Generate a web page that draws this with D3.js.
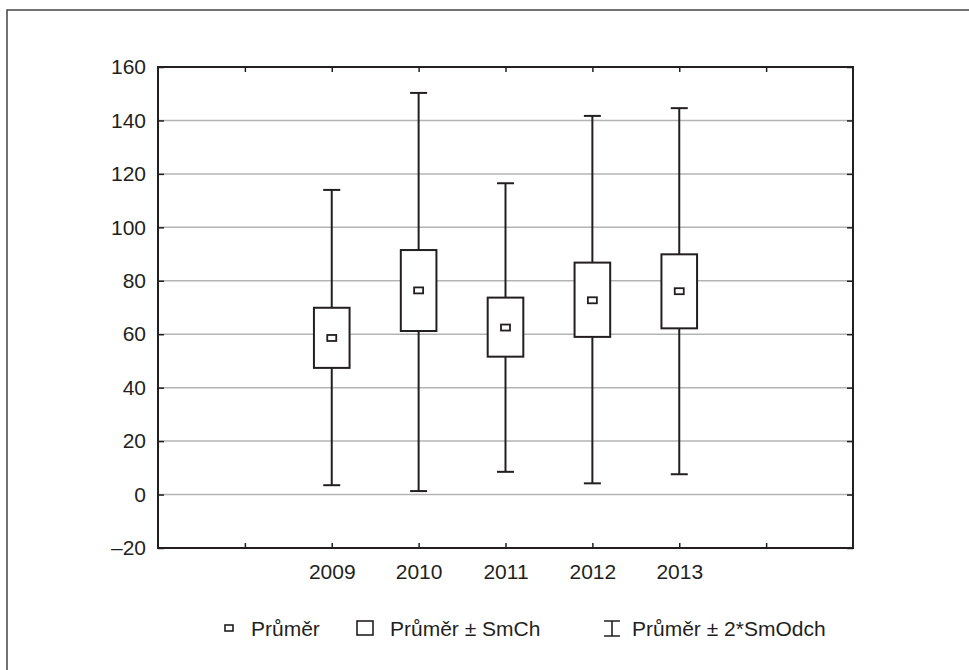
<!DOCTYPE html>
<html>
<head>
<meta charset="utf-8">
<script src="https://cdn.jsdelivr.net/npm/d3@7"></script>
<style>
  body { margin: 0; background: #fff; }
  svg text { font-family: "Liberation Sans", Arial, sans-serif; fill: #231f20; }
</style>
</head>
<body>
<svg id="chart" width="969" height="670"></svg>
<script>
// Values
const years = ["2009", "2010", "2011", "2012", "2013"];
const yearPos = [2, 3, 4, 5, 6];
const means = [58.6, 76.4, 62.5, 72.7, 76.1];
const seLow = [47.4, 61.2, 51.6, 59.0, 62.2];
const seHigh = [69.9, 91.5, 73.7, 86.8, 89.9];
const sdLow = [3.5, 1.3, 8.5, 4.2, 7.6];
const sdHigh = [114.0, 150.3, 116.5, 141.7, 144.6];
const yTicks = [-20, 0, 20, 40, 60, 80, 100, 120, 140, 160];
const xTicks = [1, 2, 3, 4, 5, 6, 7];
const legendLabels = ["Průměr", "Průměr ± SmCh", "Průměr ± 2*SmOdch"];

const data = years.map((y, i) => ({
    year: y, pos: yearPos[i], mean: means[i],
    lo: seLow[i], hi: seHigh[i], min: sdLow[i], max: sdHigh[i]
}));

const svg = d3.select("#chart");
const ink = "#231f20";

// Plot area
const margin = { top: 67, right: 116, bottom: 122, left: 158 };
const width = 969, height = 670;

const x = d3.scaleLinear().domain([0, 8]).range([margin.left, width - margin.right]);
const y = d3.scaleLinear().domain([-20, 160]).range([height - margin.bottom, margin.top]);

// Outer frame (only top and left edges are visible)
svg.append("rect")
    .attr("x", 7).attr("y", 10).attr("width", 1000).attr("height", 700)
    .attr("fill", "none").attr("stroke", "#444").attr("stroke-width", 1.5);

// Grid lines
svg.append("g")
    .selectAll("line")
    .data(yTicks.filter(d => d > -20 && d < 160))
    .join("line")
    .attr("x1", x(0)).attr("x2", x(8))
    .attr("y1", d => y(d)).attr("y2", d => y(d))
    .attr("stroke", "#b4b4b4").attr("stroke-width", 1.5);

// Axes with ticks pointing inward
svg.append("g")
    .attr("transform", `translate(${x(0)},0)`)
    .call(d3.axisLeft(y).tickValues(yTicks).tickSize(-6).tickPadding(12)
        .tickFormat(d => d < 0 ? "–" + Math.abs(d) : d))
    .call(g => g.select(".domain").remove())
    .call(g => g.selectAll("line").attr("stroke", ink).attr("stroke-width", 1.5))
    .call(g => g.selectAll("text").attr("font-size", 21).attr("fill", ink));

svg.append("g")
    .attr("transform", `translate(${x(8)},0)`)
    .call(d3.axisRight(y).tickValues(yTicks).tickSize(-6).tickFormat(""))
    .call(g => g.select(".domain").remove())
    .call(g => g.selectAll("line").attr("stroke", ink).attr("stroke-width", 1.5));

svg.append("g")
    .attr("transform", `translate(0,${y(-20)})`)
    .call(d3.axisBottom(x).tickValues(xTicks).tickSize(-5).tickPadding(16)
        .tickFormat(d => {
            const i = yearPos.indexOf(d);
            return i >= 0 ? years[i] : "";
        }))
    .call(g => g.select(".domain").remove())
    .call(g => g.selectAll("line").attr("stroke", ink).attr("stroke-width", 1.5))
    .call(g => g.selectAll("text").attr("font-size", 21).attr("fill", ink));

svg.append("g")
    .attr("transform", `translate(0,${y(160)})`)
    .call(d3.axisTop(x).tickValues(xTicks).tickSize(-5).tickFormat(""))
    .call(g => g.select(".domain").remove())
    .call(g => g.selectAll("line").attr("stroke", ink).attr("stroke-width", 1.5));

// Plot border
svg.append("rect")
    .attr("x", x(0)).attr("y", y(160))
    .attr("width", x(8) - x(0)).attr("height", y(-20) - y(160))
    .attr("fill", "none").attr("stroke", ink).attr("stroke-width", 2);

// Whiskers (mean ± 2*SD)
const capW = 17;
const whisk = svg.append("g").attr("stroke", ink).attr("stroke-width", 2);
whisk.selectAll(".stem").data(data).join("line")
    .attr("x1", d => x(d.pos)).attr("x2", d => x(d.pos))
    .attr("y1", d => y(d.min)).attr("y2", d => y(d.max));
whisk.selectAll(".capTop").data(data).join("line")
    .attr("x1", d => x(d.pos) - capW / 2).attr("x2", d => x(d.pos) + capW / 2)
    .attr("y1", d => y(d.max)).attr("y2", d => y(d.max));
whisk.selectAll(".capBot").data(data).join("line")
    .attr("x1", d => x(d.pos) - capW / 2).attr("x2", d => x(d.pos) + capW / 2)
    .attr("y1", d => y(d.min)).attr("y2", d => y(d.min));

// Boxes (mean ± SE)
const boxW = (x(1) - x(0)) * 0.41;
svg.append("g").selectAll("rect").data(data).join("rect")
    .attr("x", d => x(d.pos) - boxW / 2)
    .attr("y", d => y(d.hi))
    .attr("width", boxW)
    .attr("height", d => y(d.lo) - y(d.hi))
    .attr("fill", "#fff").attr("stroke", ink).attr("stroke-width", 2);

// Mean markers
svg.append("g").selectAll("rect").data(data).join("rect")
    .attr("x", d => x(d.pos) - 4.5)
    .attr("y", d => y(d.mean) - 3)
    .attr("width", 9).attr("height", 6)
    .attr("fill", "#fff").attr("stroke", ink).attr("stroke-width", 1.8);

// Legend
const legY = 628;
const leg = svg.append("g");
leg.append("rect").attr("x", 225).attr("y", legY - 3).attr("width", 8).attr("height", 6)
    .attr("fill", "#fff").attr("stroke", ink).attr("stroke-width", 1.6);
leg.append("rect").attr("x", 357).attr("y", legY - 7).attr("width", 16).attr("height", 14)
    .attr("fill", "#fff").attr("stroke", ink).attr("stroke-width", 1.6);
leg.append("path")
    .attr("d", `M604,${legY - 7}H620M612,${legY - 7}V${legY + 8}M604,${legY + 8}H620`)
    .attr("fill", "none").attr("stroke", ink).attr("stroke-width", 1.6);
leg.selectAll("text").data(legendLabels).join("text")
    .attr("x", (d, i) => [251, 390, 632][i])
    .attr("y", legY + 8)
    .attr("font-size", 21)
    .text(d => d);
</script>
</body>
</html>
